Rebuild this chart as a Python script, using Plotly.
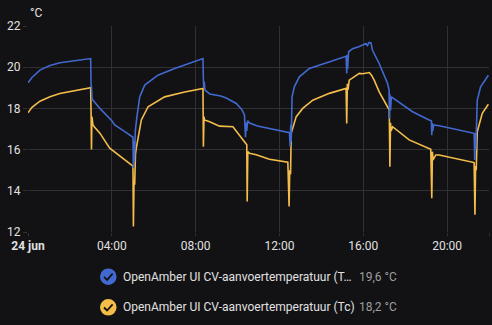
import plotly.graph_objects as go

# time in hours since 24 jun 00:00
blue_t = [0.00, 0.19, 0.57, 1.05, 1.52, 2.24, 2.99, 3.01, 3.03, 3.06, 3.19, 3.43, 4.00, 4.14, 4.62, 5.01,
          5.03, 5.06, 5.08, 5.12, 5.20, 5.33, 5.57, 6.20, 7.00, 7.71, 8.35, 8.37, 8.39, 8.41, 8.44, 8.67,
          9.20, 9.46, 9.94, 10.20, 10.33, 10.38, 10.41, 10.44, 10.48, 10.57, 10.95, 11.52, 12.00, 12.48,
          12.51, 12.54, 12.56, 12.60, 12.71, 12.95, 13.43, 14.38, 15.18, 15.21, 15.23, 15.25, 15.30, 15.49,
          15.81, 16.13, 16.20, 16.28, 16.37, 16.44, 16.76, 17.16, 17.23, 17.25, 17.27, 17.30, 17.34, 17.56,
          18.35, 19.14, 19.25, 19.27, 19.29, 19.31, 19.36, 19.62, 21.29, 21.32, 21.34, 21.37, 21.44, 21.60,
          21.97]
blue_v = [19.24, 19.50, 19.86, 20.08, 20.22, 20.33, 20.42, 19.10, 19.05, 18.45, 18.30, 18.00, 17.40, 17.20, 16.87, 16.60,
          15.10, 16.40, 15.40, 16.90, 17.60, 18.56, 19.13, 19.61, 19.94, 20.20, 20.42, 19.40, 19.00, 19.30, 18.90, 18.70,
          18.60, 18.50, 18.24, 17.95, 17.68, 16.60, 17.30, 16.90, 17.40, 17.29, 17.15, 17.03, 16.95, 16.82,
          16.14, 17.20, 16.40, 18.56, 19.05, 19.53, 19.94, 20.26, 20.53, 19.70, 20.60, 19.90, 20.75, 20.90,
          21.00, 21.15, 21.05, 21.20, 21.18, 20.82, 20.18, 19.21, 18.90, 17.50, 18.70, 17.90, 18.56, 18.40,
          17.84, 17.44, 17.40, 16.70, 17.30, 16.90, 17.20, 17.16, 16.79, 15.50, 16.80, 16.00, 18.40, 19.05,
          19.61]

yellow_t = [0.00, 0.19, 0.57, 1.05, 1.52, 2.24, 2.99, 3.01, 3.03, 3.05, 3.10, 3.16, 3.43, 3.90, 4.38, 4.62,
            4.97, 5.01, 5.03, 5.06, 5.09, 5.13, 5.18, 5.41, 5.73, 6.52, 7.48, 8.35, 8.37, 8.40, 8.42, 8.67,
            9.14, 9.78, 10.25, 10.44, 10.46, 10.49, 10.57, 10.89, 11.52, 12.40, 12.46, 12.49, 12.53, 12.56,
            12.80, 13.11, 13.59, 14.38, 15.18, 15.21, 15.24, 15.27, 15.33, 15.81, 15.97, 16.29, 16.40, 16.52,
            16.76, 17.24, 17.27, 17.30, 17.33, 17.40, 18.19, 19.22, 19.27, 19.30, 19.33, 19.46, 19.62, 21.29,
            21.33, 21.36, 21.39, 21.44, 21.68, 21.97]
yellow_v = [17.79, 18.05, 18.35, 18.57, 18.72, 18.87, 19.00, 17.80, 16.00, 17.60, 17.20, 17.11, 16.80, 16.07, 15.70, 15.50,
            15.26, 15.20, 12.27, 14.50, 14.30, 15.80, 16.14, 17.44, 18.08, 18.56, 18.80, 18.97, 16.14, 17.60, 17.44, 17.35,
            17.14, 17.11, 16.47, 16.23, 13.48, 15.90, 15.82, 15.75, 15.53, 15.39, 13.24, 15.00, 14.80, 16.79,
            17.60, 18.00, 18.40, 18.73, 18.97, 17.27, 19.20, 18.90, 19.37, 19.70, 19.68, 19.74, 19.60, 19.37,
            18.80, 17.92, 15.17, 17.30, 16.90, 17.11, 16.47, 16.02, 13.64, 15.90, 15.50, 15.74, 15.74, 15.37,
            12.84, 15.20, 15.00, 16.87, 17.76, 18.20]

tick_vals = [0, 4, 8, 12, 16, 20, 22]
tick_text = ["<b>24 jun</b>", "04:00", "08:00", "12:00", "16:00", "20:00", ""]
y_ticks = [12, 14, 16, 18, 20, 22]

series_names = ["OpenAmber UI CV-aanvoertemperatuur (T…", "OpenAmber UI CV-aanvoertemperatuur (Tc)"]
series_current = ["19,6 °C", "18,2 °C"]
unit = "°C"

BLUE = "#4269d0"
YELLOW = "#f4bd4a"
BG = "#121214"
GRID = "#313133"
TXT = "#e1e1e1"

fig = go.Figure()
fig.add_trace(go.Scatter(x=yellow_t, y=yellow_v, mode="lines", line=dict(color=YELLOW, width=1.6), showlegend=False))
fig.add_trace(go.Scatter(x=blue_t, y=blue_v, mode="lines", line=dict(color=BLUE, width=1.6), showlegend=False))

L, R, T, B = 28, 3, 26, 93
W, H = 492, 325
pw, ph = W - L - R, H - T - B


def px(x):
    return (x - L) / pw


def py(y):
    return (H - B - y) / ph


fig.update_layout(
    width=W, height=H,
    margin=dict(l=L, r=R, t=T, b=B, pad=0),
    paper_bgcolor=BG, plot_bgcolor=BG,
    font=dict(family="Roboto", size=12, color=TXT),
    showlegend=False,
    xaxis=dict(range=[0, 22], tickmode="array", tickvals=tick_vals, ticktext=tick_text,
               showgrid=True, gridcolor=GRID, gridwidth=1, zeroline=False, showline=False,
               ticks="outside", ticklen=3, tickcolor=GRID, tickfont=dict(size=12, color=TXT)),
    yaxis=dict(range=[12, 22], tickmode="array", tickvals=y_ticks,
               showgrid=True, gridcolor=GRID, gridwidth=1, zeroline=False, showline=False,
               ticks="outside", ticklen=4, tickcolor=GRID, tickfont=dict(size=12, color=TXT)),
)

annotations = [dict(x=px(28), y=py(13), xref="paper", yref="paper", text=unit, showarrow=False,
                    xanchor="left", yanchor="middle", font=dict(size=12, color=TXT))]
shapes = []
colors = [BLUE, YELLOW]
rows_y = [276.7, 307.3]
for name, cur, col, ry in zip(series_names, series_current, colors, rows_y):
    cx, r = 108.3, 8.3
    shapes.append(dict(type="circle", xref="paper", yref="paper",
                       x0=px(cx - r), x1=px(cx + r), y0=py(ry + r), y1=py(ry - r),
                       fillcolor=col, line=dict(width=0)))
    path = "M {} {} L {} {} L {} {}".format(px(cx - 4.3), py(ry + 0.2), px(cx - 1.2), py(ry + 3.2),
                                            px(cx + 4.3), py(ry - 3.0))
    shapes.append(dict(type="path", xref="paper", yref="paper", path=path,
                       line=dict(color=BG, width=1.8)))
    annotations.append(dict(x=px(120.5), y=py(ry), xref="paper", yref="paper", text=name, showarrow=False,
                            xanchor="left", yanchor="middle", font=dict(size=12, color=TXT)))
    annotations.append(dict(x=px(356.5), y=py(ry), xref="paper", yref="paper", text=cur, showarrow=False,
                            xanchor="left", yanchor="middle", font=dict(size=12, color="#9e9e9e")))

fig.update_layout(annotations=annotations, shapes=shapes)
fig.write_html("out.html")
